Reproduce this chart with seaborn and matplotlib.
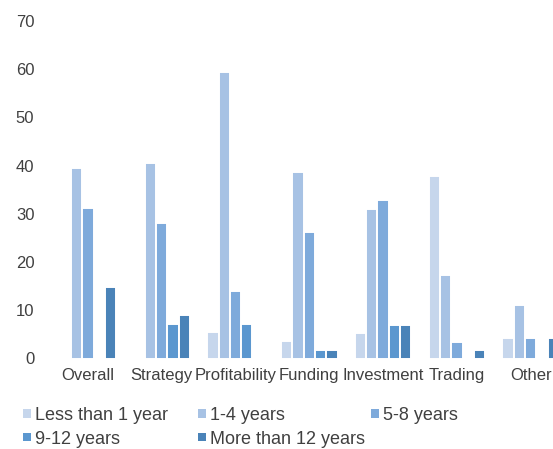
import matplotlib
matplotlib.use("Agg")
import matplotlib.pyplot as plt
from matplotlib.patches import Patch
import seaborn as sns
import pandas as pd

categories = ["Overall", "Strategy", "Profitability", "Funding", "Investment", "Trading", "Other"]
series_names = ["Less than 1 year", "1-4 years", "5-8 years", "9-12 years", "More than 12 years"]
less_than_1 = [0.0, 0.0, 5.4, 3.6, 5.3, 37.9, 4.3]
years_1_4 = [39.5, 40.5, 59.5, 38.6, 31.0, 17.3, 11.0]
years_5_8 = [31.3, 28.2, 14.1, 26.3, 32.8, 3.5, 4.3]
years_9_12 = [0.0, 7.1, 7.1, 1.8, 7.0, 0.0, 0.0]
more_than_12 = [14.8, 9.0, 0.0, 1.8, 7.0, 1.8, 4.3]
y_ticks = [0, 10, 20, 30, 40, 50, 60, 70]

colors = ["#c6d6ec", "#a7c2e4", "#7eaadb", "#5b97cf", "#4a83b8"]
text_color = "#404040"

series_values = [less_than_1, years_1_4, years_5_8, years_9_12, more_than_12]
rows = []
for name, vals in zip(series_names, series_values):
    for cat, v in zip(categories, vals):
        rows.append({"Category": cat, "Series": name, "Value": v})
df = pd.DataFrame(rows)

sns.set_theme(style="white")
plt.rcParams["font.family"] = ["Liberation Sans", "DejaVu Sans"]

fig = plt.figure(figsize=(5.53, 4.49), dpi=100)
ax = fig.add_axes([51 / 553, 1 - 358.5 / 449, 516.6 / 553, 337.5 / 449])

sns.barplot(data=df, x="Category", y="Value", hue="Series", order=categories,
            hue_order=series_names, palette=colors, width=0.766,
            edgecolor="white", linewidth=1.4, saturation=1, ax=ax, legend=False)

ax.set_xlim(-0.5, len(categories) - 0.5)
ax.set_ylim(0, 70)
ax.set_yticks(y_ticks)
ax.set_yticklabels([str(t) for t in y_ticks])
ax.set_xlabel("")
ax.set_ylabel("")
for s in ax.spines.values():
    s.set_visible(False)
ax.grid(False)
ax.tick_params(axis="y", length=0, pad=12, labelsize=12, labelcolor=text_color)
ax.tick_params(axis="x", length=0, pad=6.5, labelsize=12, labelcolor=text_color)

fs = 13
handles = [Patch(facecolor=c, edgecolor="none") for c in colors]
cols = [([0, 3], 23), ([1, 4], 198), ([2], 371)]
legend_top = 407
for idx, xpx in cols:
    leg = fig.legend([handles[i] for i in idx], [series_names[i] for i in idx],
                     loc="upper left", bbox_to_anchor=(xpx / 553, 1 - legend_top / 449),
                     frameon=False, fontsize=fs, borderpad=0, borderaxespad=0,
                     handlelength=0.45, handleheight=0.31, handletextpad=0.22,
                     labelspacing=0.36, labelcolor=text_color)

fig.savefig("out.png", dpi=100)
